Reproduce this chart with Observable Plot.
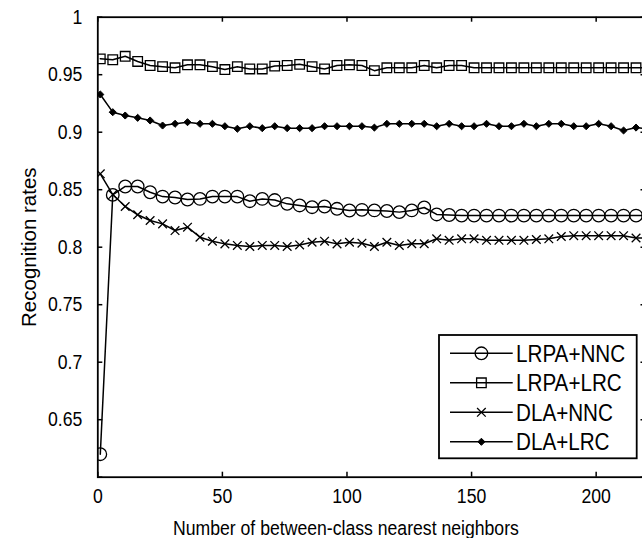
<!DOCTYPE html>
<html>
<head>
<meta charset="utf-8">
<script src="https://cdn.jsdelivr.net/npm/d3@7"></script>
<script src="https://cdn.jsdelivr.net/npm/@observablehq/plot@0.6"></script>
<style>
  html, body { margin: 0; padding: 0; background: #fff; overflow: hidden; }
  #chart { position: relative; width: 642px; height: 538px; overflow: hidden; }
  #chart svg { display: block; }
</style>
</head>
<body>
<div id="chart"></div>
<script>
// Number of between-class nearest neighbors (one sample every 5)
const neighbors = [1, 6, 11, 16, 21, 26, 31, 36, 41, 46, 51, 56, 61, 66, 71, 76, 81, 86, 91, 96,
  101, 106, 111, 116, 121, 126, 131, 136, 141, 146, 151, 156, 161, 166, 171, 176, 181, 186,
  191, 196, 201, 206, 211, 216, 221];

const lrpaNnc = [0.620, 0.8455, 0.8528, 0.8528, 0.8478, 0.8440, 0.8432, 0.8415, 0.8420, 0.8440,
  0.8440, 0.8440, 0.8400, 0.8420, 0.8410, 0.8377, 0.8363, 0.8348, 0.8354, 0.8334,
  0.8319, 0.8325, 0.8320, 0.8315, 0.8305, 0.8320, 0.8345, 0.8285, 0.8280, 0.8275,
  0.8275, 0.8275, 0.8275, 0.8275, 0.8275, 0.8275, 0.8275, 0.8275, 0.8275, 0.8275,
  0.8275, 0.8275, 0.8275, 0.8275, 0.8275];

const lrpaLrc = [0.9638, 0.9630, 0.9660, 0.9615, 0.9580, 0.9570, 0.9560, 0.9586, 0.9586, 0.9570,
  0.9545, 0.9570, 0.9550, 0.9550, 0.9575, 0.9580, 0.9590, 0.9570, 0.9550, 0.9580,
  0.9586, 0.9580, 0.9535, 0.9560, 0.9560, 0.9560, 0.9580, 0.9560, 0.9580, 0.9580,
  0.9560, 0.9560, 0.9560, 0.9560, 0.9560, 0.9560, 0.9560, 0.9560, 0.9560, 0.9560,
  0.9560, 0.9560, 0.9560, 0.9560, 0.9560];

const dlaNnc = [0.8638, 0.8458, 0.8354, 0.8282, 0.8232, 0.8203, 0.8145, 0.8174, 0.8087, 0.8052,
  0.8029, 0.8015, 0.8006, 0.8015, 0.8015, 0.8006, 0.8020, 0.8043, 0.8052, 0.8029,
  0.8043, 0.8035, 0.8006, 0.8043, 0.8015, 0.8030, 0.8030, 0.8073, 0.8060, 0.8073,
  0.8073, 0.8060, 0.8060, 0.8060, 0.8060, 0.8067, 0.8073, 0.8093, 0.8100, 0.8100,
  0.8100, 0.8100, 0.8100, 0.8080, 0.8080];

const dlaLrc = [0.9328, 0.9174, 0.9145, 0.9125, 0.9102, 0.9058, 0.9073, 0.9087, 0.9073, 0.9073,
  0.9052, 0.9030, 0.9052, 0.9035, 0.9052, 0.9035, 0.9035, 0.9035, 0.9052, 0.9052,
  0.9052, 0.9052, 0.9040, 0.9073, 0.9073, 0.9073, 0.9073, 0.9052, 0.9073, 0.9052,
  0.9052, 0.9073, 0.9052, 0.9052, 0.9073, 0.9052, 0.9073, 0.9073, 0.9052, 0.9052,
  0.9073, 0.9052, 0.9015, 0.9040, 0.9030];

const seriesNames = ["LRPA+NNC", "LRPA+LRC", "DLA+NNC", "DLA+LRC"];
const seriesValues = [lrpaNnc, lrpaLrc, dlaNnc, dlaLrc];

const xTicks = [0, 50, 100, 150, 200];
const xTickLabels = ["0", "50", "100", "150", "200"];
const yTicks = [0.6, 0.65, 0.7, 0.75, 0.8, 0.85, 0.9, 0.95, 1];
const yTickLabels = ["", "0.65", "0.7", "0.75", "0.8", "0.85", "0.9", "0.95", "1"];

const xLabel = "Number of between-class nearest neighbors";
const yLabel = "Recognition rates";

// Marker styling per series (MATLAB-like o, s, x, d)
const markerStyle = [
  {symbol: "circle",   r: 6.3, fill: "none", strokeWidth: 1.3},
  {symbol: "square",   r: 5.4, fill: "none", strokeWidth: 1.3},
  {symbol: "times",    r: 4.0, fill: "none", strokeWidth: 1.3},
  {symbol: "diamond2", r: 3.2, fill: "#000", strokeWidth: 1.0}
];

const rows = seriesNames.map((name, s) =>
  neighbors.map((n, i) => ({series: name, n, rate: seriesValues[s][i]})));

const width = 642, height = 538;
const marginLeft = 97.3, marginRight = -3.5, marginTop = 16.7, marginBottom = 61.3;
const frameW = width - marginLeft - marginRight;
const frameH = height - marginTop - marginBottom;
const tickLen = 5;

const seriesMarks = rows.flatMap((data, s) => [
  Plot.line(data, {x: "n", y: "rate", stroke: "#000", strokeWidth: 1.5, clip: true}),
  Plot.dot(data, {x: "n", y: "rate", stroke: "#000", clip: true, ...markerStyle[s]})
]);

const chart = Plot.plot({
  width, height, marginLeft, marginRight, marginTop, marginBottom,
  style: {fontFamily: "'Liberation Sans', Arial, Helvetica, sans-serif", fontSize: "20.5px", color: "#000", background: "#fff"},
  x: {domain: [0, 220]},
  y: {domain: [0.6, 1]},
  marks: [
    ...seriesMarks,
    // inward ticks on all four sides
    Plot.tickX(xTicks, {x: d => d, insetTop: frameH - tickLen, stroke: "#000", strokeWidth: 1.5}),
    Plot.tickX(xTicks, {x: d => d, insetBottom: frameH - tickLen, stroke: "#000", strokeWidth: 1.5}),
    Plot.tickY(yTicks, {y: d => d, insetRight: frameW - tickLen, stroke: "#000", strokeWidth: 1.5}),
    Plot.tickY(yTicks, {y: d => d, insetLeft: frameW - tickLen, stroke: "#000", strokeWidth: 1.5}),
    Plot.axisX(xTicks, {tickSize: 0, tickPadding: 11, label: null,
      tickFormat: d => xTickLabels[xTicks.indexOf(d)]}),
    Plot.axisY(yTicks, {tickSize: 0, tickPadding: 15.5, label: null,
      tickFormat: d => yTickLabels[yTicks.indexOf(d)]}),
    Plot.frame({stroke: "#000", strokeWidth: 1.8}),
    Plot.text([xLabel], {frameAnchor: "bottom", textAnchor: "middle", lineAnchor: "bottom", dy: 57.3, dx: -26, text: d => d}),
    Plot.text([yLabel], {frameAnchor: "left", textAnchor: "middle", lineAnchor: "bottom", rotate: -90, dx: -62, text: d => d})
  ]
});

document.getElementById("chart").appendChild(chart);

// Legend box in the lower-right corner of the axes
const svg = d3.select(chart);
const lg = svg.append("g").attr("class", "legend")
  .attr("font-family", "'Liberation Sans', Arial, Helvetica, sans-serif")
  .attr("font-size", "24px")
  .attr("text-anchor", "start");
lg.append("rect").attr("x", 439).attr("y", 335).attr("width", 197.7).attr("height", 123.3)
  .attr("fill", "#fff").attr("stroke", "#000").attr("stroke-width", 1.8);
const symbolMap = {circle: d3.symbolCircle, square: d3.symbolSquare, times: d3.symbolTimes, diamond2: d3.symbolDiamond2};
seriesNames.forEach((name, i) => {
  const cy = 353.3 + i * 29.5;
  const m = markerStyle[i];
  const row = lg.append("g");
  row.append("line").attr("x1", 450).attr("x2", 512.7).attr("y1", cy).attr("y2", cy)
    .attr("stroke", "#000").attr("stroke-width", 1.5);
  row.append("path")
    .attr("d", d3.symbol(symbolMap[m.symbol], Math.PI * m.r * m.r)())
    .attr("transform", `translate(481.4,${cy})`)
    .attr("fill", m.fill).attr("stroke", "#000").attr("stroke-width", m.strokeWidth);
  row.append("text").attr("x", 516).attr("y", cy).attr("dy", "0.36em")
    .attr("text-anchor", "start").text(name);
});

// Narrow the horizontal lettering to the tall, compact face of the figure
svg.selectAll("text").each(function() {
  const t = this.getAttribute("transform") || "";
  if (t.includes("rotate")) return;
  const len = this.getComputedTextLength();
  if (len > 0) {
    this.setAttribute("textLength", (len * 0.86).toFixed(2));
    this.setAttribute("lengthAdjust", "spacingAndGlyphs");
  }
});
</script>
</body>
</html>
